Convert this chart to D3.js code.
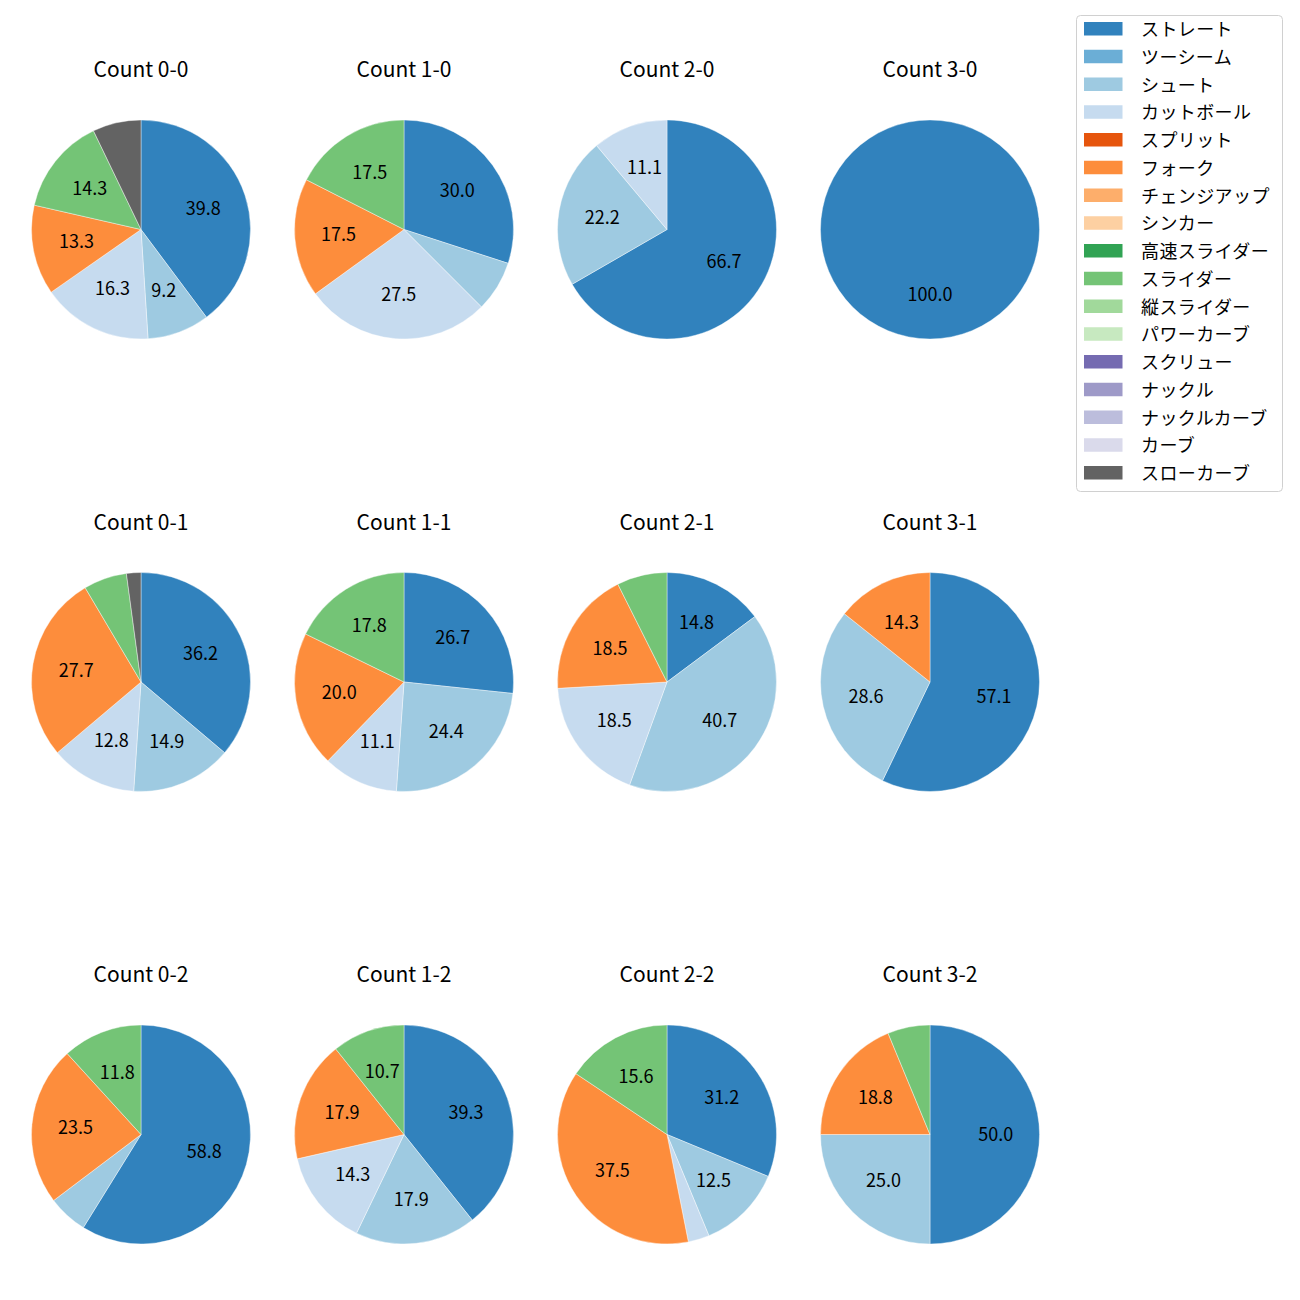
<!doctype html>
<html lang="ja">
<head>
<meta charset="utf-8">
<style>
  body { margin: 0; background: #fff; }
  text { font-family: "Noto Sans CJK JP", "Noto Sans", sans-serif; }
</style>
</head>
<body>
<script src="https://d3js.org/d3.v7.min.js"></script>
<div id="chart"></div>
<script>
// pitch types (legend order) and their colours (tab20c)
var pitchTypes = ["ストレート", "ツーシーム", "シュート", "カットボール", "スプリット", "フォーク",
  "チェンジアップ", "シンカー", "高速スライダー", "スライダー", "縦スライダー", "パワーカーブ",
  "スクリュー", "ナックル", "ナックルカーブ", "カーブ", "スローカーブ"];
var pitchColors = ["#3182bd", "#6baed6", "#9ecae1", "#c6dbef", "#e6550d", "#fd8d3c",
  "#fdae6b", "#fdd0a2", "#31a354", "#74c476", "#a1d99b", "#c7e9c0",
  "#756bb1", "#9e9ac8", "#bcbddc", "#dadaeb", "#636363"];

// ball-strike counts, laid out by strikes (rows) and balls (columns)
var balls = [0, 1, 2, 3];
var strikes = [0, 1, 2];

// pitch counts per situation, in pitchTypes order
var counts = {
  "0-0": [39, 0, 9, 16, 0, 13, 0, 0, 0, 14, 0, 0, 0, 0, 0, 0, 7],
  "1-0": [12, 0, 3, 11, 0, 7, 0, 0, 0, 7, 0, 0, 0, 0, 0, 0, 0],
  "2-0": [6, 0, 2, 1, 0, 0, 0, 0, 0, 0, 0, 0, 0, 0, 0, 0, 0],
  "3-0": [1, 0, 0, 0, 0, 0, 0, 0, 0, 0, 0, 0, 0, 0, 0, 0, 0],
  "0-1": [17, 0, 7, 6, 0, 13, 0, 0, 0, 3, 0, 0, 0, 0, 0, 0, 1],
  "1-1": [12, 0, 11, 5, 0, 9, 0, 0, 0, 8, 0, 0, 0, 0, 0, 0, 0],
  "2-1": [4, 0, 11, 5, 0, 5, 0, 0, 0, 2, 0, 0, 0, 0, 0, 0, 0],
  "3-1": [4, 0, 2, 0, 0, 1, 0, 0, 0, 0, 0, 0, 0, 0, 0, 0, 0],
  "0-2": [10, 0, 1, 0, 0, 4, 0, 0, 0, 2, 0, 0, 0, 0, 0, 0, 0],
  "1-2": [11, 0, 5, 4, 0, 5, 0, 0, 0, 3, 0, 0, 0, 0, 0, 0, 0],
  "2-2": [10, 0, 4, 1, 0, 12, 0, 0, 0, 5, 0, 0, 0, 0, 0, 0, 0],
  "3-2": [8, 0, 4, 0, 0, 3, 0, 0, 0, 1, 0, 0, 0, 0, 0, 0, 0]
};

var width = 1300, height = 1300;
var radius = 109.5;

var svg = d3.select("#chart").append("svg")
  .attr("width", width)
  .attr("height", height);

var x = d3.scalePoint().domain(balls).range([141, 930]);
var y = d3.scalePoint().domain(strikes).range([229.5, 1134.5]);
var color = d3.scaleOrdinal().domain(pitchTypes).range(pitchColors);

var pie = d3.pie().sort(null).value(function(d) { return d.value; });
var arc = d3.arc().innerRadius(0).outerRadius(radius);
var labelArc = d3.arc().innerRadius(radius * 0.6).outerRadius(radius * 0.6);

// one decimal, halves rounded to even like python's %1.1f
function fmt(v) {
  var t = v * 10, f = Math.floor(t), r = t - f;
  if (Math.abs(r - 0.5) < 1e-9) t = (f % 2 === 0) ? f : f + 1;
  else t = Math.round(t);
  return (t / 10).toFixed(1);
}

strikes.forEach(function(s) {
  balls.forEach(function(b) {
    var key = b + "-" + s;
    var vals = counts[key];
    var total = d3.sum(vals);
    var data = pitchTypes.map(function(p, i) { return { type: p, value: vals[i] }; })
      .filter(function(d) { return d.value > 0; });

    var g = svg.append("g").attr("transform", "translate(" + x(b) + "," + y(s) + ")");

    g.append("text")
      .attr("x", 0)
      .attr("y", -radius - 43)
      .attr("text-anchor", "middle")
      .attr("font-size", "21px")
      .attr("fill", "#000")
      .text("Count " + key);

    var arcs = pie(data);
    g.selectAll("path")
      .data(arcs)
      .enter().append("path")
      .attr("d", arc)
      .attr("fill", function(d) { return color(d.data.type); })
      .attr("stroke", "#fff")
      .attr("stroke-width", 0.4);

    g.selectAll("text.pct")
      .data(arcs.filter(function(d) { return d.data.value / total * 100 > 8; }))
      .enter().append("text")
      .attr("class", "pct")
      .attr("transform", function(d) {
        var c = labelArc.centroid(d);
        return "translate(" + c[0] + "," + (c[1] - 2) + ")";
      })
      .attr("text-anchor", "middle")
      .attr("dominant-baseline", "central")
      .attr("font-size", "18px")
      .attr("fill", "#000")
      .text(function(d) { return fmt(d.data.value / total * 100); });
  });
});

// legend
var legend = svg.append("g").attr("transform", "translate(1076.5,15.5)");
legend.append("rect")
  .attr("width", 206)
  .attr("height", 476)
  .attr("rx", 4)
  .attr("fill", "#fff")
  .attr("stroke", "#d0d0d0")
  .attr("stroke-width", 1);

var ly = d3.scalePoint().domain(pitchTypes).range([13.5, 457.5]);
var items = legend.selectAll("g.item")
  .data(pitchTypes)
  .enter().append("g")
  .attr("class", "item")
  .attr("transform", function(d) { return "translate(0," + ly(d) + ")"; });
items.append("rect")
  .attr("x", 7.5)
  .attr("y", -7)
  .attr("width", 38.5)
  .attr("height", 13.5)
  .attr("fill", function(d) { return color(d); });
items.append("text")
  .attr("x", 64.5)
  .attr("y", -1)
  .attr("dominant-baseline", "central")
  .attr("font-size", "18px")
  .attr("letter-spacing", "0.4px")
  .attr("fill", "#000")
  .text(function(d) { return d; });
</script>
</body>
</html>
